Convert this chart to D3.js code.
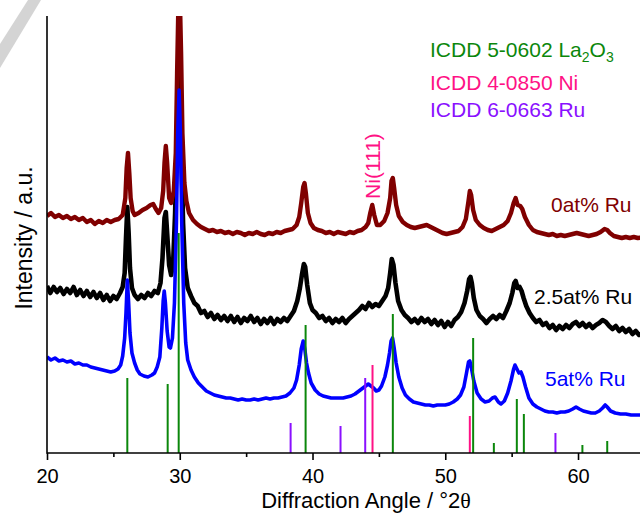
<!DOCTYPE html>
<html>
<head>
<meta charset="utf-8">
<script src="https://cdn.jsdelivr.net/npm/d3@7/dist/d3.min.js"></script>
<style>
  html, body { margin: 0; padding: 0; background: #fff; }
  svg { display: block; }
  text { font-family: "Liberation Sans", Arial, sans-serif; }
</style>
</head>
<body>
<div id="chart"></div>
<script>
// XRD patterns of Ni/La2O3 catalysts with increasing Ru loading (offset stacked)
// Each series: [2θ (deg), intensity (a.u.)]
const ru0 = [
  [20.0,237],[20.3,240],[20.6,236],[20.9,238],[21.2,235],[21.5,237],[21.8,234],[22.1,236],[22.4,233],[22.7,235],
  [23.0,231],[23.3,233],[23.6,229],[23.9,232],[24.2,230],[24.5,233],[24.8,231],[25.1,233],[25.4,234],[25.7,238],
  [25.9,255],[26.0,285],[26.1,300],[26.2,280],[26.3,255],[26.45,242],[26.6,238],[26.9,240],[27.2,243],[27.5,245],
  [27.8,248],[28.0,249],[28.2,244],[28.4,240],[28.6,245],[28.75,262],[28.85,290],[28.95,307],[29.05,290],[29.2,255],
  [29.35,250],[29.55,262],[29.7,300],[29.8,380],[29.9,450],[30.0,460],[30.1,400],[30.2,320],[30.35,270],[30.5,252],
  [30.7,240],[31.0,233],[31.3,229],[31.6,226],[31.9,224],[32.2,222],[32.5,223],[32.8,221],[33.1,222],[33.4,220],
  [33.7,221],[34.0,219],[34.3,221],[34.6,220],[34.9,218],[35.2,220],[35.5,219],[35.8,221],[36.1,219],[36.4,218],
  [36.7,220],[37.0,219],[37.3,221],[37.6,220],[37.9,222],[38.2,223],[38.5,224],[38.8,228],[39.0,236],[39.15,250],
  [39.3,266],[39.4,270],[39.5,260],[39.65,240],[39.85,230],[40.1,225],[40.4,223],[40.7,222],[41.0,220],[41.3,221],
  [41.6,219],[41.9,221],[42.2,220],[42.5,219],[42.8,221],[43.1,220],[43.4,222],[43.7,223],[44.0,226],[44.2,230],
  [44.35,240],[44.5,248],[44.65,238],[44.85,228],[45.1,228],[45.4,232],[45.65,240],[45.85,255],[45.95,272],[46.05,275],
  [46.15,265],[46.3,248],[46.5,237],[46.8,231],[47.1,228],[47.4,226],[47.7,225],[48.0,226],[48.3,227],[48.6,228],
  [48.9,226],[49.2,224],[49.5,222],[49.8,220],[50.1,219],[50.4,220],[50.7,221],[51.0,222],[51.3,226],[51.55,234],
  [51.75,252],[51.85,262],[51.95,258],[52.1,243],[52.3,233],[52.6,228],[52.9,225],[53.2,223],[53.5,222],[53.8,224],
  [54.1,226],[54.4,228],[54.7,232],[54.95,240],[55.15,250],[55.3,255],[55.45,248],[55.65,247],[55.8,244],[56.0,236],
  [56.3,228],[56.6,223],[56.9,221],[57.2,220],[57.5,219],[57.8,218],[58.1,219],[58.4,217],[58.7,218],[59.0,217],
  [59.3,218],[59.6,219],[59.9,220],[60.2,219],[60.5,218],[60.8,217],[61.1,218],[61.4,219],[61.7,221],[62.0,224],
  [62.2,223],[62.4,220],[62.7,217],[63.0,216],[63.3,215],[63.6,216],[63.9,215],[64.2,216],[64.5,215],[65.0,216]
];

const ru25 = [
  [20.0,167],[20.25,160],[20.5,166],[20.75,161],[21.0,165],[21.25,159],[21.5,164],[21.75,160],[22.0,166],[22.25,158],
  [22.5,163],[22.75,157],[23.0,162],[23.25,156],[23.5,161],[23.75,155],[24.0,160],[24.25,153],[24.5,158],[24.75,152],
  [25.0,157],[25.25,154],[25.5,160],[25.7,166],[25.85,180],[25.95,215],[26.05,246],[26.15,220],[26.25,185],[26.4,165],
  [26.6,158],[26.85,154],[27.1,158],[27.35,155],[27.6,160],[27.85,157],[28.1,162],[28.35,160],[28.55,170],[28.7,195],
  [28.85,235],[28.95,241],[29.05,220],[29.2,188],[29.35,178],[29.5,190],[29.65,240],[29.8,320],[29.95,380],[30.1,320],
  [30.25,230],[30.4,185],[30.6,165],[30.85,157],[31.1,150],[31.35,147],[31.6,140],[31.85,142],[32.1,136],[32.35,140],
  [32.6,134],[32.85,138],[33.1,133],[33.35,137],[33.6,132],[33.85,137],[34.1,131],[34.35,136],[34.6,130],[34.85,135],
  [35.1,132],[35.35,137],[35.6,131],[35.85,135],[36.1,129],[36.35,134],[36.6,130],[36.85,135],[37.1,129],[37.35,134],
  [37.6,131],[37.85,135],[38.1,132],[38.35,137],[38.6,142],[38.85,152],[39.05,165],[39.2,178],[39.35,189],[39.45,186],
  [39.6,168],[39.8,150],[40.0,143],[40.25,140],[40.5,135],[40.75,137],[41.0,132],[41.25,135],[41.5,130],[41.75,134],
  [42.0,131],[42.25,135],[42.5,130],[42.75,134],[43.0,137],[43.25,140],[43.5,143],[43.75,147],[44.0,144],[44.25,150],
  [44.5,146],[44.75,149],[45.0,147],[45.25,152],[45.5,157],[45.7,165],[45.85,180],[45.97,194],[46.1,188],[46.25,170],
  [46.45,152],[46.7,143],[46.95,138],[47.2,135],[47.45,131],[47.7,134],[47.95,130],[48.2,135],[48.45,131],[48.7,134],
  [48.95,129],[49.2,133],[49.45,128],[49.7,132],[49.95,126],[50.2,131],[50.45,127],[50.7,133],[50.95,136],[51.2,141],
  [51.45,150],[51.65,162],[51.8,174],[51.9,176],[52.0,170],[52.15,155],[52.35,143],[52.6,137],[52.85,134],[53.1,130],
  [53.35,134],[53.6,137],[53.85,134],[54.1,138],[54.35,135],[54.6,142],[54.85,150],[55.05,160],[55.2,170],[55.3,172],
  [55.45,165],[55.6,166],[55.75,162],[55.9,155],[56.1,147],[56.35,140],[56.6,135],[56.85,131],[57.1,133],[57.35,128],
  [57.6,130],[57.85,125],[58.1,128],[58.35,123],[58.6,127],[58.85,124],[59.1,128],[59.35,125],[59.6,129],[59.85,131],
  [60.1,127],[60.35,130],[60.6,126],[60.85,129],[61.1,125],[61.35,128],[61.6,130],[61.85,133],[62.1,131],[62.35,127],
  [62.6,124],[62.85,127],[63.1,122],[63.35,125],[63.6,121],[63.85,124],[64.1,119],[64.35,122],[64.6,118],[65.0,120]
];

const ru5 = [
  [20.0,96],[20.3,93],[20.6,95],[20.9,92],[21.2,93],[21.5,91],[21.8,92],[22.1,89],[22.4,90],[22.7,88],
  [23.0,88],[23.3,86],[23.6,85],[23.9,84],[24.2,83],[24.5,82],[24.8,81],[25.1,82],[25.35,84],[25.55,88],
  [25.7,97],[25.85,115],[25.95,140],[26.05,173],[26.15,150],[26.25,120],[26.4,100],[26.6,90],[26.8,83],[27.0,79],
  [27.3,77],[27.6,76],[27.9,78],[28.1,80],[28.3,86],[28.5,96],[28.65,125],[28.75,152],[28.83,162],[28.92,150],
  [29.05,122],[29.2,106],[29.3,105],[29.45,115],[29.6,150],[29.75,230],[29.85,320],[29.95,363],[30.05,320],[30.15,230],
  [30.3,150],[30.45,110],[30.6,93],[30.85,83],[31.1,76],[31.4,70],[31.7,66],[32.0,62],[32.3,60],[32.6,58],
  [32.9,57],[33.2,56],[33.5,55],[33.8,55],[34.1,54],[34.4,53],[34.7,54],[35.0,53],[35.3,53],[35.6,54],
  [35.9,53],[36.2,54],[36.5,55],[36.8,54],[37.1,55],[37.4,55],[37.7,56],[38.0,57],[38.3,60],[38.6,65],
  [38.8,73],[39.0,88],[39.15,104],[39.3,112],[39.42,104],[39.55,90],[39.7,80],[39.9,70],[40.2,63],[40.5,59],
  [40.8,57],[41.1,56],[41.4,55],[41.7,55],[42.0,55],[42.3,55],[42.6,56],[42.9,57],[43.2,59],[43.5,62],
  [43.8,65],[44.0,67],[44.2,69],[44.4,67],[44.6,65],[44.8,62],[45.0,63],[45.2,67],[45.45,76],[45.65,88],
  [45.8,100],[45.92,112],[46.03,115],[46.15,105],[46.3,90],[46.5,76],[46.75,65],[47.0,58],[47.3,54],[47.6,51],
  [47.9,50],[48.2,49],[48.5,48],[48.8,48],[49.1,47],[49.4,48],[49.7,48],[50.0,48],[50.3,49],[50.6,51],
  [50.9,54],[51.15,58],[51.4,66],[51.6,80],[51.75,91],[51.85,92],[51.97,85],[52.15,72],[52.4,60],[52.7,54],
  [53.0,51],[53.3,52],[53.55,55],[53.75,56],[54.0,51],[54.2,49],[54.45,52],[54.7,60],[54.95,72],[55.15,84],
  [55.25,88],[55.4,84],[55.55,80],[55.7,81],[55.85,76],[56.05,66],[56.3,55],[56.6,49],[56.9,46],[57.2,44],
  [57.5,42],[57.8,41],[58.1,41],[58.4,40],[58.7,41],[59.0,41],[59.3,42],[59.6,44],[59.85,46],[60.1,44],
  [60.4,42],[60.7,41],[61.0,40],[61.3,40],[61.6,42],[61.85,45],[62.05,48],[62.2,46],[62.45,42],[62.8,40],
  [63.2,39],[63.6,39],[64.0,38],[64.5,38],[65.0,38]
];

// Reference stick patterns: [2θ, relative height]
const la2o3Sticks = [[26.05,75],[29.09,69],[29.92,220],[39.48,128],[46.05,139],[52.1,115],[53.66,10],[55.39,54],[55.92,39],[60.33,8],[62.2,12]];
const niSticks = [[44.52,88],[51.85,37]];
const ruSticks = [[38.35,30],[42.11,27],[43.97,75],[58.3,20]];

const majorTicks = [20, 30, 40, 50, 60];
const minorTicks = [25, 35, 45, 55, 65];

const seriesNames = ["0at% Ru", "2.5at% Ru", "5at% Ru"];
const seriesColors = ["#800000", "#000000", "#0000ff"];
const stickNames = ["ICDD 5-0602 La", "ICDD 4-0850 Ni", "ICDD 6-0663 Ru"];
const stickColors = ["#0b870b", "#ff1185", "#8a10ff"];

const W = 640, H = 513;
const svg = d3.select("#chart").append("svg").attr("width", W).attr("height", H);
svg.append("rect").attr("width", W).attr("height", H).attr("fill", "#fff");

// faint grey diagonal stroke in the top-left corner
svg.append("polygon")
  .attr("points", "28,0 41,0 0,68 0,44")
  .attr("fill", "#d4d4d4");

const x = d3.scaleLinear().domain([20, 65]).range([47, 644.4]);
const y = d3.scaleLinear().domain([0, 437]).range([453, 16]);

svg.append("clipPath").attr("id", "plotClip")
  .append("rect").attr("x", 47).attr("y", 16).attr("width", 600).attr("height", 437);

const line = d3.line().x(d => x(d[0])).y(d => y(d[1])).curve(d3.curveLinear);

// drawing order: 2.5at% underneath, then 0at%, then 5at% on top
const traces = [ru0, ru25, ru5];
const widths = [4.4, 4.6, 3.6];
const order = [1, 0, 2];
const gTr = svg.append("g").attr("clip-path", "url(#plotClip)");
order.forEach(i => {
  gTr.append("path").datum(traces[i])
    .attr("d", line)
    .attr("fill", "none")
    .attr("stroke", seriesColors[i])
    .attr("stroke-width", widths[i])
    .attr("stroke-linejoin", "round");
});

// stick patterns
const gSt = svg.append("g").attr("clip-path", "url(#plotClip)");
[la2o3Sticks, niSticks, ruSticks].forEach((sticks, i) => {
  gSt.selectAll(null).data(sticks).enter().append("line")
    .attr("x1", d => x(d[0])).attr("x2", d => x(d[0]))
    .attr("y1", y(0)).attr("y2", d => y(d[1]))
    .attr("stroke", stickColors[i]).attr("stroke-width", 2);
});

// axes
const xAxis = d3.axisBottom(x).tickValues(majorTicks).tickSize(7).tickPadding(9).tickFormat(d3.format("d"));
const gx = svg.append("g").attr("transform", `translate(0,${y(0)})`).call(xAxis);
gx.select(".domain").attr("stroke", "#000").attr("stroke-width", 1.6).attr("d", `M47,0H640`);
gx.selectAll(".tick line").attr("stroke-width", 1.6);
gx.selectAll(".tick text").attr("font-size", 20).attr("fill", "#000")
  .style("font-family", '"Liberation Sans", Arial, sans-serif');
const gxm = svg.append("g").attr("transform", `translate(0,${y(0)})`)
  .call(d3.axisBottom(x).tickValues(minorTicks).tickSize(4).tickFormat(""));
gxm.select(".domain").remove();
gxm.selectAll(".tick line").attr("stroke-width", 1.6);

svg.append("line").attr("x1", 47).attr("x2", 47).attr("y1", 16).attr("y2", y(0) + 0.8)
  .attr("stroke", "#000").attr("stroke-width", 1.6);

// axis titles
const xt = svg.append("text").attr("x", 366).attr("y", 508).attr("text-anchor", "middle")
  .attr("font-size", 22).attr("fill", "#000");
xt.append("tspan").text("Diffraction Angle / °2");
xt.append("tspan").style("font-family", '"Liberation Serif", "DejaVu Serif", serif').text("θ");

svg.append("text").attr("transform", "translate(32,238) rotate(-90)").attr("text-anchor", "middle")
  .attr("font-size", 23).attr("fill", "#000").text("Intensity / a.u.");

// stick legend
const legY = [57, 90, 117];
stickNames.forEach((n, i) => {
  const t = svg.append("text").attr("x", 430).attr("y", legY[i]).attr("font-size", 21).attr("fill", stickColors[i]);
  t.append("tspan").text(n);
  if (i === 0) {
    t.append("tspan").attr("font-size", 14).attr("dy", 5).text("2");
    t.append("tspan").attr("font-size", 21).attr("dy", -5).text("O");
    t.append("tspan").attr("font-size", 14).attr("dy", 5).text("3");
  }
});

// reflection annotation
svg.append("text").attr("transform", "translate(380,166) rotate(-90)").attr("text-anchor", "middle")
  .attr("font-size", 21).attr("fill", stickColors[1]).text("Ni(111)");

// series labels
const labPos = [[551, 212], [534, 304], [545, 386]];
seriesNames.forEach((n, i) => {
  svg.append("text").attr("x", labPos[i][0]).attr("y", labPos[i][1])
    .attr("font-size", 21).attr("fill", seriesColors[i]).text(n);
});
</script>
</body>
</html>
